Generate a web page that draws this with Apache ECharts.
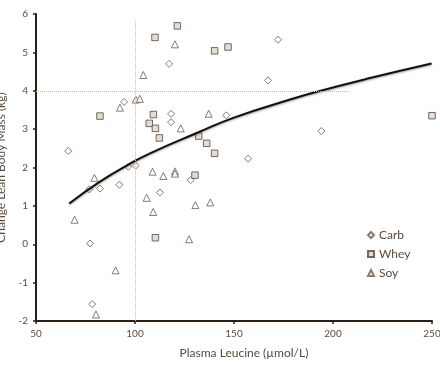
<!DOCTYPE html>
<html><head><meta charset="utf-8">
<script src="https://cdn.jsdelivr.net/npm/echarts@6/dist/echarts.min.js"></script>
<style>html,body{margin:0;padding:0;background:#fff}#c{width:440px;height:365px}</style>
</head><body><div id="c"></div>
<script>
var xTicks = [50, 100, 150, 200, 250];
var yTicks = [-2, -1, 0, 1, 2, 3, 4, 5, 6];
var carb = [[66.3,2.43],[94.5,3.71],[96.6,2.02],[100.3,2.05],[76.9,1.43],[82.3,1.45],[92.1,1.55],[77.3,0.02],[78.4,-1.56],[117.2,4.70],[172.2,5.33],[167.2,4.27],[118.2,3.40],[146.1,3.36],[118.2,3.18],[157.1,2.23],[128.1,1.67],[112.6,1.35],[194.1,2.95]];
var whey = [[82.3,3.34],[107.2,3.15],[121.4,5.69],[110.1,5.39],[140.2,5.04],[147.0,5.14],[109.3,3.38],[110.3,3.02],[112.3,2.77],[132.2,2.82],[136.2,2.63],[140.2,2.37],[130.3,1.80],[110.3,0.17],[250,3.35]];
var soy = [[104.2,4.41],[92.4,3.56],[100.4,3.77],[102.4,3.79],[79.5,1.73],[105.9,1.21],[69.5,0.64],[90.2,-0.68],[80.3,-1.83],[120.2,5.21],[137.2,3.40],[123.1,3.02],[108.9,1.89],[114.3,1.78],[120.2,1.90],[120.2,1.84],[109.2,0.84],[130.5,1.02],[138.0,1.09],[127.3,0.13]];
var trend = [[66.8,1.06],[82.3,1.63],[97.5,2.10],[107.6,2.37],[131.2,2.90],[150,3.30],[178.3,3.77],[190,3.95],[218.7,4.33],[249.8,4.71]];
var refX = 100, refXTop = 5.83;
var refY = 4, refYEnd = 208;

var txt = '#5a4a3c', axisCol = '#2e1e12', mk = '#6e5a4a';
var chart = echarts.init(document.getElementById('c'));
chart.setOption({
  animation: false,
  textStyle: {fontFamily: 'Lato'},
  grid: {left: 36, right: 8, top: 14, bottom: 44, containLabel: false, outerBoundsMode: 'none'},
  legend: {
    orient: 'vertical', left: 362, top: 224, itemWidth: 6, itemHeight: 6, itemGap: 7,
    textStyle: {color: txt, fontSize: 12, fontFamily: 'Lato'},
    data: [{name:'Carb', icon:'diamond'}, {name:'Whey', icon:'rect'}, {name:'Soy', icon:'triangle'}]
  },
  xAxis: {
    type: 'value', min: 50, max: 250, interval: 50,
    name: 'Plasma Leucine (µmol/L)', nameLocation: 'middle', nameGap: 26,
    nameTextStyle: {color: txt, fontSize: 12, fontFamily: 'Lato', padding: [0,0,0,20]},
    axisLine: {show: true, onZero: false, lineStyle: {color: axisCol, width: 2}},
    axisTick: {show: true, length: 3, lineStyle: {color: axisCol, width: 1.5}},
    axisLabel: {color: txt, fontSize: 10, margin: 8},
    splitLine: {show: false}
  },
  yAxis: {
    type: 'value', min: -2, max: 6, interval: 1,
    name: 'Change Lean Body Mass (kg)', nameLocation: 'middle', nameGap: 21, nameRotate: 90,
    nameTextStyle: {color: txt, fontSize: 12, fontFamily: 'Lato'},
    axisLine: {show: true, onZero: false, lineStyle: {color: axisCol, width: 2}},
    axisTick: {show: true, length: 3, lineStyle: {color: axisCol, width: 1.5}},
    axisLabel: {color: txt, fontSize: 10, margin: 8},
    splitLine: {show: false}
  },
  series: [
    {name: 'Carb', type: 'scatter', symbol: 'diamond', symbolSize: 7, data: carb,
     itemStyle: {color: '#fff', borderColor: mk, borderWidth: 1}, z: 3,
     markLine: {silent: true, symbol: 'none', label: {show: false},
       lineStyle: {color: '#c9b9a8', type: 'dotted', width: 1},
       data: [
         [{coord: [refX, -2]}, {coord: [refX, refXTop]}],
         [{coord: [50, refY]}, {coord: [refYEnd, refY]}]
       ]}},
    {name: 'Whey', type: 'scatter', symbol: 'rect', symbolSize: 6.5, data: whey,
     itemStyle: {color: '#dcd4cc', borderColor: '#5a4535', borderWidth: 1}, z: 3},
    {name: 'Soy', type: 'scatter', symbol: 'triangle', symbolSize: 7, data: soy,
     itemStyle: {color: '#fff', borderColor: mk, borderWidth: 1}, z: 3},
    {name: 'Trend', type: 'line', smooth: true, showSymbol: false, data: trend,
     lineStyle: {color: '#111', width: 2, shadowColor: 'rgba(90,60,30,0.5)', shadowBlur: 2, shadowOffsetY: 1}, z: 4}
  ]
});
</script></body></html>
